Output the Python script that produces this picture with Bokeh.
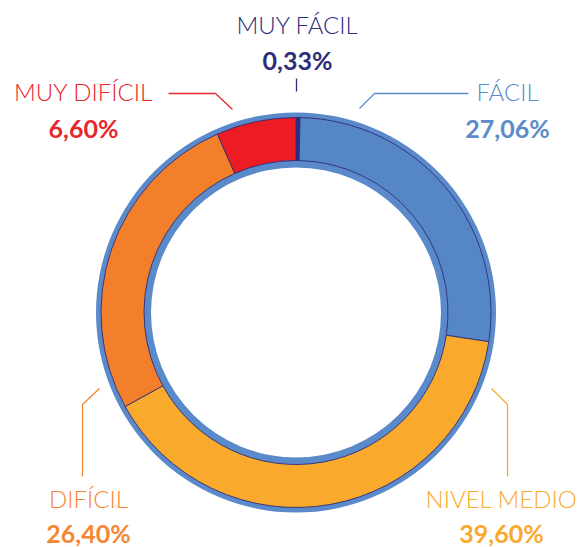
import math
from bokeh.plotting import figure
from bokeh.models import Range1d, ColumnDataSource
from bokeh.core.properties import value
from bokeh.embed import file_html
from bokeh.resources import INLINE

# ---- data ----
categories = ["MUY FÁCIL", "FÁCIL", "NIVEL MEDIO", "DIFÍCIL", "MUY DIFÍCIL"]
percentages = [0.33, 27.06, 39.60, 26.40, 6.60]
colors = ["#2E2D78", "#5587C7", "#F9A92B", "#F47F2A", "#ED1C24"]
text_colors = ["#2E2D78", "#5B8BC9", "#F9A92B", "#F58634", "#E8262D"]

# ---- layout (pixel coords, y measured from top) ----
W, H = 580, 547
CX, CY = 295.5, 312
R_OUT_BAND = (195, 200)
R_WEDGE = (152, 195)
R_IN_BAND = (145, 152)
TEXT_SHIFT = -11

# label layout: name center x, name baseline y, pct baseline y
label_pos = {
    "MUY FÁCIL": (297, 35, 70),
    "FÁCIL": (507, 102, 138),
    "NIVEL MEDIO": (501, 509, 543),
    "DIFÍCIL": (88, 509, 543),
    "MUY DIFÍCIL": (83, 102, 138),
}
leaders = {
    "MUY FÁCIL": [(296, 78), (296, 91)],
    "FÁCIL": [(359, 108), (374, 93), (468, 93)],
    "NIVEL MEDIO": [(491, 388), (507, 404), (507, 476)],
    "DIFÍCIL": [(99, 388), (82, 404), (82, 476)],
    "MUY DIFÍCIL": [(168, 93), (215, 93), (232, 109)],
}

def fy(y):
    return H - y

p = figure(width=W, height=H, output_backend="svg", toolbar_location=None,
           x_range=Range1d(0, W), y_range=Range1d(0, H), min_border=0)
p.axis.visible = False
p.grid.visible = False
p.outline_line_color = None
p.background_fill_color = "white"
p.border_fill_color = "white"

# wedges
total = sum(percentages)
starts, ends = [], []
cum = 0.0
for v in percentages:
    starts.append(math.pi / 2 - cum / total * 2 * math.pi)
    cum += v
    ends.append(math.pi / 2 - cum / total * 2 * math.pi)

src = ColumnDataSource(dict(start=starts, end=ends, color=colors))
# outer and inner blue bands
p.annulus(x=[CX], y=[fy(CY)], inner_radius=R_OUT_BAND[0] - 1, outer_radius=R_OUT_BAND[1],
          fill_color="#5A8ACA", line_color=None)
p.annulus(x=[CX], y=[fy(CY)], inner_radius=R_IN_BAND[0], outer_radius=R_IN_BAND[1] + 1,
          fill_color="#5A8ACA", line_color=None)
p.annular_wedge(x=CX, y=fy(CY), inner_radius=R_WEDGE[0], outer_radius=R_WEDGE[1],
                start_angle="start", end_angle="end", direction="clock",
                fill_color="color", line_color="#2E2D78", line_width=0.9, source=src)

# leaders and labels
for cat, pct, tc in zip(categories, percentages, text_colors):
    pts = leaders[cat]
    p.line([x for x, _ in pts], [fy(y) for _, y in pts], line_color=tc, line_width=1.3)
    x, yn, yp = label_pos[cat]
    p.text(x=[x], y=[fy(yn + TEXT_SHIFT)], text=[cat], text_color=tc,
           text_font=value("Lato Light"),
           text_font_size="24px", text_align="center", text_baseline="alphabetic")
    p.text(x=[x], y=[fy(yp + TEXT_SHIFT)], text=[f"{pct:.2f}".replace(".", ",") + "%"], text_color=tc,
           text_font=value("Lato"), text_font_style="bold",
           text_font_size="25px", text_align="center", text_baseline="alphabetic")

open("out.html", "w").write(file_html(p, INLINE))
